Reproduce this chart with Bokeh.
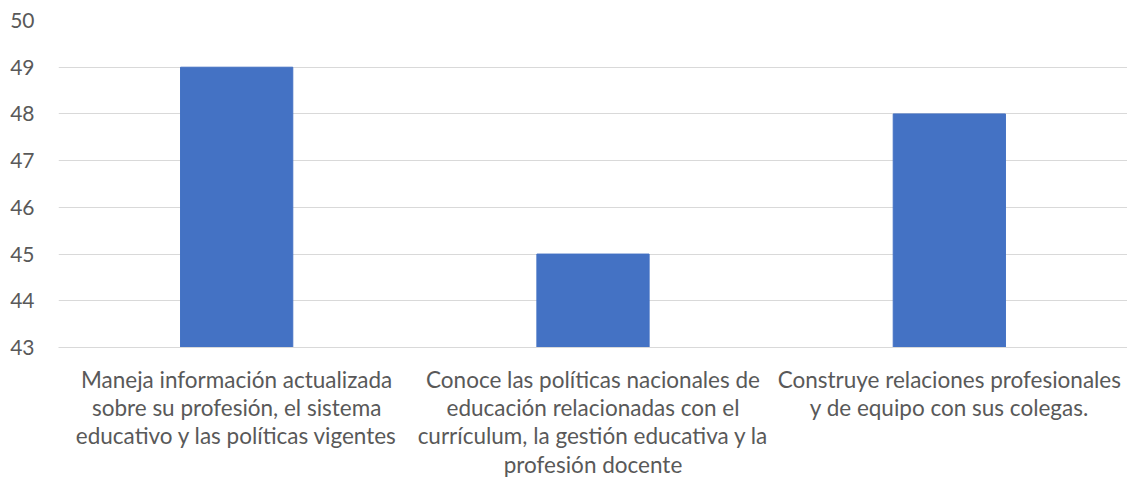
from bokeh.plotting import figure
from bokeh.models import Range1d, FactorRange, FixedTicker
from bokeh.embed import file_html
from bokeh.resources import INLINE

categories = [
    "Maneja información actualizada\nsobre su profesión, el sistema\neducativo y las políticas vigentes",
    "Conoce las políticas nacionales de\neducación relacionadas con el\ncurrículum, la gestión educativa y la\nprofesión docente",
    "Construye relaciones profesionales\ny de equipo con sus colegas.",
]
values = [49, 45, 48]
y_ticks = [43, 44, 45, 46, 47, 48, 49, 50]

FONT = "Lato"
TXT = "#595959"

p = figure(x_range=FactorRange(*categories, range_padding=0), y_range=Range1d(43, 50),
           width=1127, height=481, output_backend="svg", toolbar_location=None,
           min_border_left=58, min_border_right=0, min_border_top=20, min_border_bottom=134)

p.vbar(x=categories, top=values, bottom=43, width=0.315, color="#4472C4")

p.outline_line_color = None
p.xgrid.grid_line_color = None
p.ygrid.grid_line_color = "#D9D9D9"
p.ygrid.grid_line_width = 1
p.yaxis.ticker = FixedTicker(ticks=y_ticks)
p.yaxis.axis_line_color = None
p.yaxis.major_tick_line_color = None
p.yaxis.minor_tick_line_color = None
p.yaxis.major_label_text_font = FONT
p.yaxis.major_label_text_font_size = "21px"
p.yaxis.major_label_text_color = TXT
p.yaxis.major_label_standoff = 18

p.xaxis.axis_line_color = "#D9D9D9"
p.xaxis.major_tick_line_color = None
p.xaxis.minor_tick_line_color = None
p.xaxis.major_label_text_font = FONT
p.xaxis.major_label_text_font_size = "22.5px"
p.xaxis.major_label_text_color = TXT
p.xaxis.major_label_standoff = 12
p.xaxis.major_label_text_line_height = 1.05

open("out.html", "w").write(file_html(p, INLINE))
